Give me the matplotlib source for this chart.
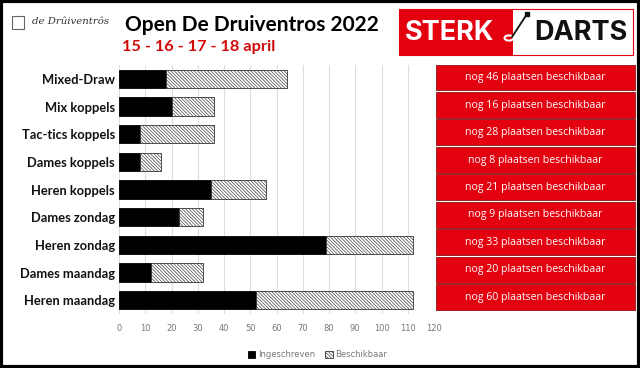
import matplotlib
matplotlib.use("Agg")
import matplotlib.pyplot as plt
from matplotlib.patches import Rectangle

# categories top -> bottom, as shown in the chart
categories = ["Mixed-Draw", "Mix koppels", "Tac-tics koppels", "Dames koppels",
              "Heren koppels", "Dames zondag", "Heren zondag", "Dames maandag",
              "Heren maandag"]
ingeschreven = [18, 20, 8, 8, 35, 23, 79, 12, 52]
beschikbaar = [46, 16, 28, 8, 21, 9, 33, 20, 60]
x_ticks = [0, 10, 20, 30, 40, 50, 60, 70, 80, 90, 100, 110, 120]

W, H = 640, 368
fig = plt.figure(figsize=(W / 100, H / 100), dpi=100)
plt.rcParams["hatch.linewidth"] = 0.45
plt.rcParams["hatch.color"] = "#555555"


def fx(px):
    return px / W


def fy(py):
    return 1 - py / H


# main bar chart
ax = fig.add_axes([fx(119), fy(314), fx(434) - fx(119), (314 - 65) / H])
ypos = list(range(len(categories)))
ax.barh(ypos, ingeschreven, height=0.66, color="black", edgecolor="black",
        lw=0.6, label="Ingeschreven", zorder=3)
ax.barh(ypos, beschikbaar, left=ingeschreven, height=0.66, color="white",
        edgecolor="#333333", hatch="\\" * 10, lw=0.6, label="Beschikbaar",
        zorder=3)
ax.set_ylim(len(categories) - 0.5, -0.5)
ax.set_xlim(0, 120)
ax.set_yticks(ypos)
ax.set_yticklabels(categories, fontsize=9.3, fontweight="bold", color="#111111",
                   family="Lato")
ax.set_xticks(x_ticks)
ax.set_xticklabels([str(t) for t in x_ticks], fontsize=6, color="#777777")
ax.tick_params(length=0)
ax.tick_params(axis="x", pad=7)
ax.tick_params(axis="y", pad=3)
ax.grid(axis="x", color="#dddddd", lw=0.8, zorder=0)
for s in ax.spines.values():
    s.set_visible(False)

leg = ax.legend(loc="upper center", bbox_to_anchor=(0.63, -0.115), ncol=2,
                frameon=False, fontsize=6, handlelength=0.9, handleheight=0.9,
                columnspacing=1.2, handletextpad=0.3)
for t in leg.get_texts():
    t.set_color("#777777")

# red "nog ... plaatsen beschikbaar" boxes, one per row
row_top = 64
row_h = (311 - 64) / len(categories)
for i, n in enumerate(beschikbaar):
    top = row_top + i * row_h
    fig.patches.append(Rectangle((fx(436), fy(top + row_h - 1)), fx(635) - fx(436),
                                 (row_h - 1.5) / H, transform=fig.transFigure,
                                 facecolor="#e3000f", edgecolor="#7a0000", lw=0.5))
    fig.text(fx(535), fy(top + row_h / 2), f"nog {n} plaatsen beschikbaar",
             ha="center", va="center", fontsize=7.6, color="white",
             family="Open Sans")

# header
fig.text(fx(252), fy(25), "Open De Druiventros 2022", ha="center", va="center",
         fontsize=15, fontweight="bold", color="black", family="Lato")
fig.text(fx(122), fy(47), "15 - 16 - 17 - 18 april", ha="left", va="center",
         fontsize=11.8, fontweight="bold", color="#d10a0a", family="Lato")

# left logo
fig.patches.append(Rectangle((fx(12), fy(29)), fx(12), 13 / H,
                             transform=fig.transFigure, facecolor="white",
                             edgecolor="#666666", lw=0.8))
fig.text(fx(32), fy(22), "de Drûiventrôs", ha="left", va="center",
         fontsize=7.3, style="italic", family="DejaVu Serif", color="#333333")

# Sterk Darts logo
fig.patches.append(Rectangle((fx(399), fy(55)), fx(633) - fx(399), 46 / H,
                             transform=fig.transFigure, facecolor="white",
                             edgecolor="#e3000f", lw=0.8))
fig.patches.append(Rectangle((fx(399), fy(55)), fx(513) - fx(399), 46 / H,
                             transform=fig.transFigure, facecolor="#e3000f",
                             edgecolor="none"))
fig.text(fx(405), fy(33), "STERK", ha="left", va="center", fontsize=19.5,
         fontweight="bold", color="white", family="Inter")
fig.text(fx(627), fy(33), "DARTS", ha="right", va="center", fontsize=19.5,
         fontweight="bold", color="#111111", family="Inter")
# dart icon
fig.lines.append(plt.Line2D([fx(512), fx(527)], [fy(37), fy(14)],
                            transform=fig.transFigure, color="#111111", lw=1.3))
fig.patches.append(Rectangle((fx(525), fy(16)), fx(4), 4 / H,
                             transform=fig.transFigure, color="#111111"))
fig.patches.append(plt.Circle((fx(509), fy(38)), 4.5 / W,
                              transform=fig.transFigure, facecolor="none",
                              edgecolor="white", lw=1.5))

# outer border
fig.patches.append(Rectangle((0.002, 0.003), 0.996, 0.994,
                             transform=fig.transFigure, facecolor="none",
                             edgecolor="black", lw=3))

fig.savefig("out.png", dpi=100)
